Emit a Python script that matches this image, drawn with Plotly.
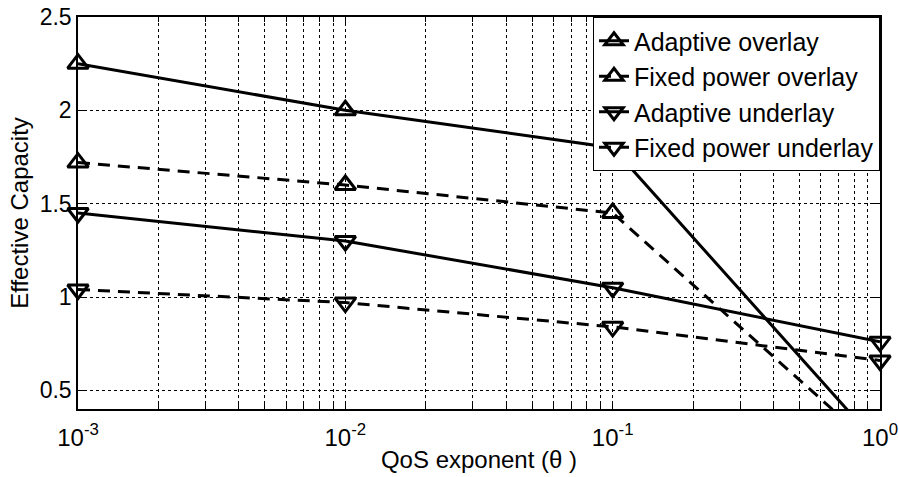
import plotly.graph_objects as go

theta = [0.001, 0.01, 0.1, 1.0]
adaptive_overlay = [2.25, 2.0, 1.8, 0.2]
fixed_overlay = [1.72, 1.6, 1.45, 0.17]
adaptive_underlay = [1.45, 1.3, 1.05, 0.76]
fixed_underlay = [1.04, 0.97, 0.84, 0.66]

series = [
    ("Adaptive overlay", adaptive_overlay, "solid", "triangle-up-open"),
    ("Fixed power overlay", fixed_overlay, "12px,8px", "triangle-up-open"),
    ("Adaptive underlay", adaptive_underlay, "solid", "triangle-down-open"),
    ("Fixed power underlay", fixed_underlay, "12px,8px", "triangle-down-open"),
]

x_tickvals = [0.001, 0.01, 0.1, 1.0]
x_ticktext = ["10<sup>-3</sup>", "10<sup>-2</sup>", "10<sup>-1</sup>", "10<sup>0</sup>"]
y_tickvals = [0.5, 1, 1.5, 2, 2.5]
y_ticktext = ["0.5", "1", "1.5", "2", "2.5"]
y_min, y_max = 0.4, 2.5

fig = go.Figure()
for i, (name, vals, dash, sym) in enumerate(series):
    # markers of points lying below the visible range are hidden (as in the clipped original)
    mcol = ["black" if y_min <= v <= y_max else "rgba(0,0,0,0)" for v in vals]
    fig.add_trace(go.Scatter(
        x=theta, y=vals, name=name, mode="lines+markers",
        legendgroup=f"g{i}", cliponaxis=False,
        line=dict(color="black", width=3, dash=dash),
        marker=dict(symbol=sym, size=18, color=mcol,
                    line=dict(color=mcol, width=3)),
    ))

font = "Arial, Liberation Sans, sans-serif"
fig.update_layout(
    width=899, height=477,
    margin=dict(l=78, r=19, t=17, b=68),
    paper_bgcolor="white", plot_bgcolor="white",
    font=dict(family=font, color="black", size=22),
    showlegend=True,
    legend=dict(
        x=1, y=1, xanchor="right", yanchor="top",
        bgcolor="white", bordercolor="black", borderwidth=1,
        font=dict(size=25, family=font, color="black"),
        tracegroupgap=0,
        traceorder="grouped",
    ),
)
fig.update_xaxes(
    type="log", range=[-3, 0], automargin=False,
    tickvals=x_tickvals, ticktext=x_ticktext,
    ticks="inside", ticklen=7, tickcolor="black",
    ticklabelstandoff=6,
    showline=True, linecolor="black", linewidth=1.5, mirror="ticks",
    showgrid=True, gridcolor="black", griddash="dot", gridwidth=1,
    minor=dict(dtick="D1", showgrid=True, gridcolor="black", griddash="dot",
               gridwidth=1, ticks="inside", ticklen=5, tickcolor="black"),
    tickfont=dict(size=24),
    title=dict(text="QoS exponent (θ )", font=dict(size=24), standoff=2),
    zeroline=False,
)
fig.update_yaxes(
    range=[y_min, y_max], automargin=False,
    tickvals=y_tickvals, ticktext=y_ticktext,
    ticks="inside", ticklen=7, tickcolor="black",
    showline=True, linecolor="black", linewidth=1.5, mirror="ticks",
    showgrid=True, gridcolor="black", griddash="dot", gridwidth=1,
    tickfont=dict(size=23),
    title=dict(text="Effective Capacity", font=dict(size=24), standoff=4),
    zeroline=False,
)
fig.write_html("out.html", config={"displayModeBar": False},
               post_script="document.body.style.margin='0';")
